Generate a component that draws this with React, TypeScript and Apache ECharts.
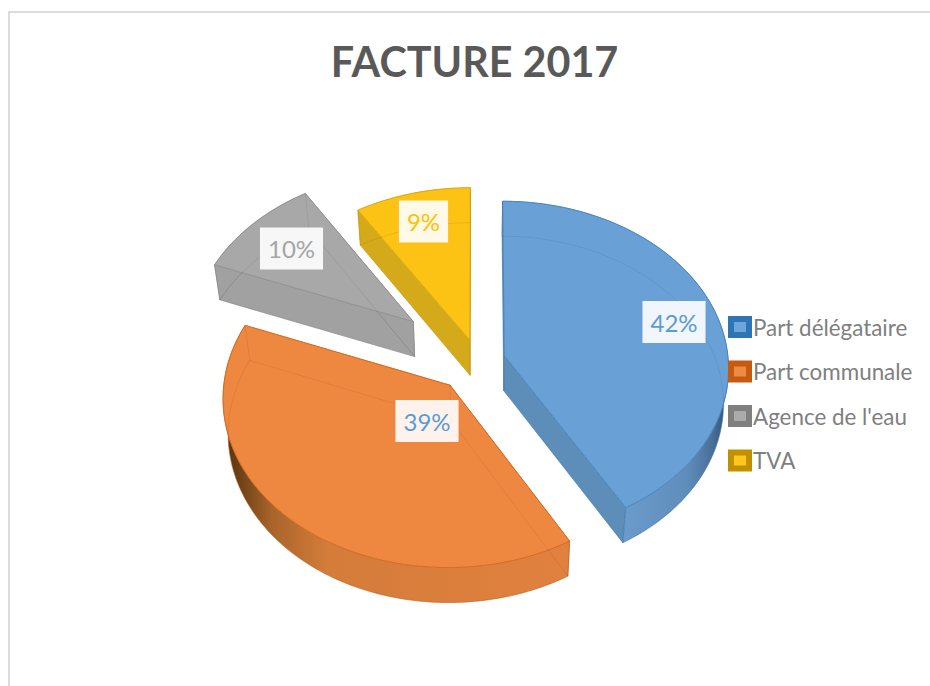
import React, { useEffect, useRef } from "react";
import * as echarts from "echarts";

const categories = ["Part délégataire", "Part communale", "Agence de l'eau", "TVA"];
const shares = [41.6, 39.3, 10.1, 9.0];

// Appearance and layout of each slice, separate from the data.
const topColors = ["#69a1d7", "#ee8840", "#a8a8a8", "#fcc315"];
const edgeColors = ["#4a86c0", "#d46c22", "#929292", "#dcaa14"];
const cutColors = ["#5d8db9", "#e0803e", "#a1a1a1", "#d4a91a"];
const legendDark = ["#2e75b6", "#c55a11", "#7f7f7f", "#bf9000"];
const legendLight = ["#6ea6da", "#ee8a44", "#ababab", "#ffc71c"];
const labelColors = ["#5b9bd5", "#5b9bd5", "#a5a5a5", "#ffc000"];
const explosions = [0.122, 0.19, 0.38, 0.131];
const labelAnchors = [[674, 322], [427, 421], [291.5, 248.5], [423.5, 221.5]];
const wallStops: [number, string][][] = [
  [[0, "#6a9bcb"], [0.54, "#6a9bcb"], [0.82, "#5f8dba"], [0.93, "#486f98"], [1, "#2f5070"]],
  [[0, "#4f2f10"], [0.05, "#6f4218"], [0.14, "#a8642a"], [0.3, "#d47c3a"], [1, "#e2813f"]],
  [[0, "#a1a1a1"], [1, "#a1a1a1"]],
  [[0, "#d4a91a"], [1, "#d4a91a"]],
];

const CX = 478;
const CY = 361;
const RX = 224;
const RY = 166;
const PERSPECTIVE = 0.07;
const DEPTH = 35;
const SHRINK = 0.98;

const total = shares.reduce((a, b) => a + b, 0);
const rad = (d: number) => (d * Math.PI) / 180;

function sliceAngles(i: number) {
  const before = shares.slice(0, i).reduce((a, b) => a + b, 0);
  return [(before / total) * 360, ((before + shares[i]) / total) * 360];
}

function renderSlice(params: any, api: any) {
  const i = params.seriesIndex;
  const [a0, a1] = sliceAngles(i);
  const mid = rad((a0 + a1) / 2);
  const ex = explosions[i] * Math.sin(mid);
  const ez = explosions[i] * Math.cos(mid);
  const project = (x: number, z: number) => {
    const w = 1 + PERSPECTIVE * z;
    return [CX + (RX * x) / w, CY - (RY * z) / w];
  };
  const onRim = (deg: number) => {
    const t = rad(deg);
    return project(ex + Math.sin(t), ez + Math.cos(t));
  };
  const lower = (p: number[]) => [CX + (p[0] - CX) * SHRINK, p[1] + DEPTH];
  const rim: number[][] = [];
  const steps = Math.ceil(a1 - a0);
  for (let k = 0; k <= steps; k++) rim.push(onRim(a0 + ((a1 - a0) * k) / steps));
  const apex = project(ex, ez);
  const first = rim[0];
  const last = rim[rim.length - 1];
  const topFace = [apex, ...rim];
  const lowFace = topFace.map(lower);
  const base = { lineWidth: 1, stroke: edgeColors[i], lineJoin: "round" };
  const cut = (p: number[], q: number[]) => ({
    type: "polygon",
    shape: { points: [p, q, lower(q), lower(p)] },
    style: { ...base, fill: cutColors[i], lineWidth: 0.6 },
  });
  const ghost = (points: number[][]) => ({
    type: "polyline",
    shape: { points },
    style: { stroke: "#000000", opacity: 0.07, lineWidth: 1, fill: "none" },
  });
  const [lx, ly] = labelAnchors[i];
  return {
    type: "group",
    children: [
      cut(apex, first),
      cut(apex, last),
      {
        type: "polygon",
        shape: { points: [...rim, ...rim.map(lower).reverse()] },
        style: {
          lineWidth: 0.6,
          stroke: edgeColors[i],
          fill: new echarts.graphic.LinearGradient(
            0, 0, 1, 0,
            wallStops[i].map(([offset, color]) => ({ offset, color })),
          ),
        },
      },
      { type: "polygon", shape: { points: topFace }, style: { ...base, fill: topColors[i] } },
      ghost([...lowFace, lowFace[0]]),
      ghost([apex, lower(apex)]),
      ghost([first, lower(first)]),
      ghost([last, lower(last)]),
      {
        type: "text",
        x: lx,
        y: ly,
        style: {
          text: `${Math.round(api.value(0))}%`,
          fill: labelColors[i],
          fontSize: 24,
          fontFamily: "Lato",
          align: "center",
          verticalAlign: "middle",
          backgroundColor: "rgba(255,255,255,0.9)",
          padding: [9, 8, 9, 8],
        },
      },
    ],
  };
}

export default function App() {
  const ref = useRef<HTMLDivElement>(null);
  useEffect(() => {
    const chart = echarts.init(ref.current!, null, { renderer: "svg" });
    chart.setOption({
      animation: false,
      backgroundColor: "#ffffff",
      title: {
        text: "FACTURE 2017",
        left: 469.5,
        top: 35,
        textAlign: "center",
        textStyle: { fontFamily: "Lato", fontWeight: "bold", fontSize: 41.3, color: "#595959" },
      },
      legend: {
        orient: "vertical",
        left: 728,
        top: 316,
        padding: 0,
        itemWidth: 18,
        itemHeight: 16,
        itemGap: 22.5,
        selectedMode: false,
        textStyle: { fontFamily: "Lato", fontSize: 22.4, color: "#7f7f7f", padding: [1, 0, 0, -1] },
        data: categories.map((name, i) => ({
          name,
          icon: "rect",
          itemStyle: { color: legendLight[i], borderColor: legendDark[i], borderWidth: 6 },
        })),
      },
      graphic: [
        {
          type: "rect",
          silent: true,
          z: -1,
          shape: { x: 9, y: 12, width: 1000, height: 1000 },
          style: { fill: "none", stroke: "#dcdcdc", lineWidth: 2 },
        },
      ],
      series: categories.map((name, i) => ({
        type: "custom",
        name,
        coordinateSystem: "none",
        silent: true,
        itemStyle: { color: legendLight[i] },
        data: [[shares[i]]],
        renderItem: renderSlice,
      })),
    });
    return () => chart.dispose();
  }, []);
  return <div ref={ref} style={{ position: "absolute", left: 0, top: 0, width: 930, height: 686 }} />;
}
